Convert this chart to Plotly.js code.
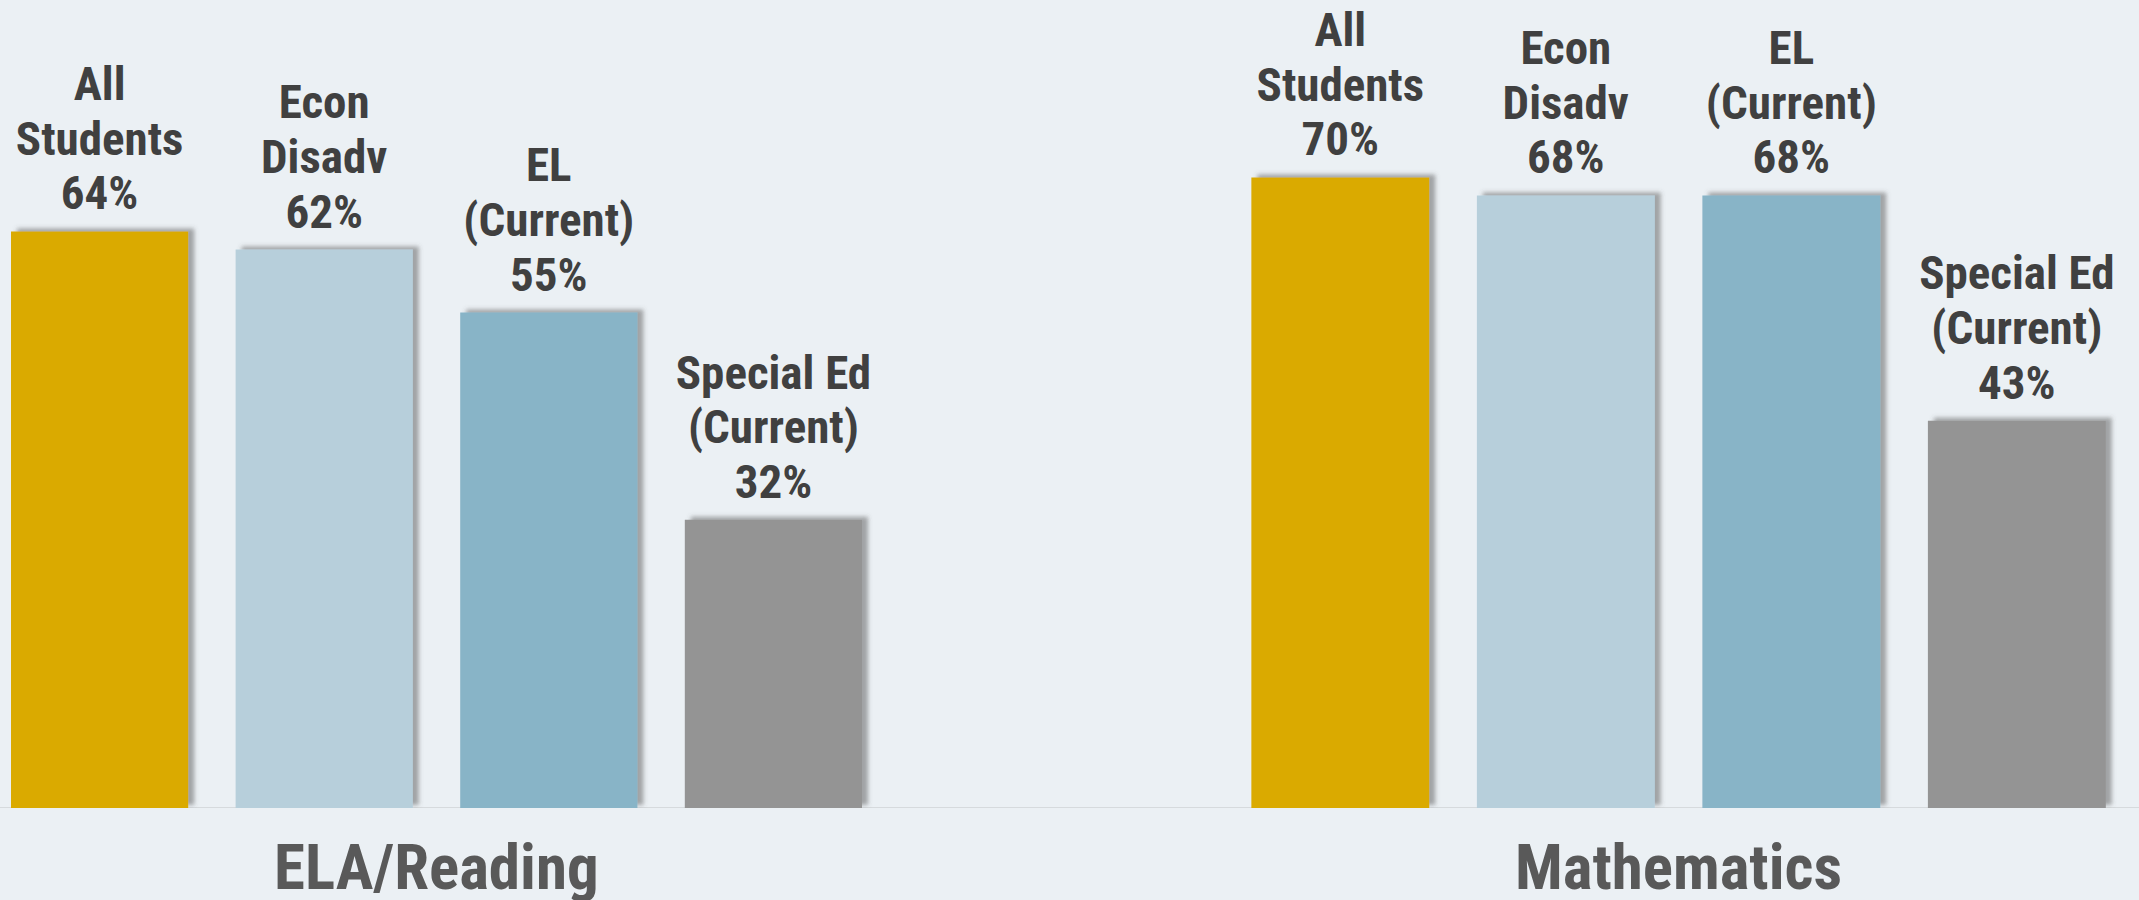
<!DOCTYPE html>
<html>
<head>
<meta charset="utf-8">
<script src="https://cdn.plot.ly/plotly-3.0.1.min.js"></script>
<style>
  html, body { margin: 0; padding: 0; background: #EBF0F4; }
  #chart { width: 2139px; height: 900px; }
</style>
</head>
<body>
<div id="chart"></div>
<script>
// ---- data ----
const groups = ['ELA/Reading', 'Mathematics'];
const categories = ['All<br>Students', 'Econ<br>Disadv', 'EL<br>(Current)', 'Special Ed<br>(Current)'];
const elaValues = [64, 62, 55, 32];
const mathValues = [70, 68, 68, 43];
const barColors = ['#DAAA00', '#B7CFDB', '#88B4C7', '#949494'];

const FONT = '"Liberation Sans Narrow", "Arial Narrow", "Roboto Condensed", "Liberation Sans", Arial, sans-serif';
const BASE_SIZE = 42;      // size used by Plotly for layout (line pitch 1.3em = 54.6px)
const SHOWN_SIZE = 47;     // glyph size shown, keeping the tight line pitch

function makeTrace(values, xa) {
  return {
    type: 'bar',
    x: categories,
    y: values,
    xaxis: xa,
    yaxis: 'y',
    marker: { color: barColors, line: { width: 0 } },
    text: values.map((v, i) => '<b>' + categories[i].replace('<br>', '</b><br><b>') + '<br>' + v + '%</b>'),
    textposition: 'outside',
    constraintext: 'none',
    cliponaxis: false,
    textfont: { family: FONT, size: BASE_SIZE, color: '#404040' },
    hoverinfo: 'skip',
    showlegend: false
  };
}

const data = [makeTrace(elaValues, 'x'), makeTrace(mathValues, 'x2')];

const axisBase = {
  type: 'category',
  showticklabels: false,
  showgrid: false,
  zeroline: false,
  showline: false,
  ticks: '',
  fixedrange: true
};

const layout = {
  width: 2139,
  height: 900,
  margin: { l: 0, r: 0, t: 0, b: 92, pad: 0 },
  paper_bgcolor: '#EBF0F4',
  plot_bgcolor: '#EBF0F4',
  bargap: 0.211,
  font: { family: FONT },
  xaxis: Object.assign({}, axisBase, { domain: [0, 0.41408], range: [-0.4435, 3.5], anchor: 'y' }),
  xaxis2: Object.assign({}, axisBase, { domain: [0.5739, 0.99561], range: [-0.5, 3.5], anchor: 'y' }),
  yaxis: { range: [0, 89.7], showticklabels: false, showgrid: false, zeroline: false, showline: false, ticks: '', fixedrange: true },
  shapes: [{
    type: 'line', xref: 'paper', yref: 'y', x0: 0, x1: 1, y0: 0, y1: 0,
    line: { color: '#D6DADD', width: 2 }, layer: 'below'
  }],
  annotations: [
    { xref: 'x', yref: 'paper', x: 1.5, y: -0.0735, yanchor: 'middle', xanchor: 'center', showarrow: false,
      text: '<b>' + groups[0] + '</b>', font: { family: FONT, size: 63, color: '#595959' } },
    { xref: 'x2', yref: 'paper', x: 1.5, y: -0.0735, yanchor: 'middle', xanchor: 'center', showarrow: false,
      text: '<b>' + groups[1] + '</b>', font: { family: FONT, size: 63, color: '#595959' } }
  ]
};

Plotly.newPlot('chart', data, layout, { staticPlot: true, displayModeBar: false }).then(function (gd) {
  const svgNS = 'http://www.w3.org/2000/svg';
  const svg = gd.querySelector('svg.main-svg');
  let defs = svg.querySelector('defs');
  if (!defs) { defs = document.createElementNS(svgNS, 'defs'); svg.insertBefore(defs, svg.firstChild); }
  const filter = document.createElementNS(svgNS, 'filter');
  filter.setAttribute('id', 'barShadow');
  filter.setAttribute('x', '-20%'); filter.setAttribute('y', '-20%');
  filter.setAttribute('width', '140%'); filter.setAttribute('height', '140%');
  const ds = document.createElementNS(svgNS, 'feDropShadow');
  ds.setAttribute('dx', '6'); ds.setAttribute('dy', '-3');
  ds.setAttribute('stdDeviation', '2');
  ds.setAttribute('flood-color', '#555555');
  ds.setAttribute('flood-opacity', '0.5');
  filter.appendChild(ds);
  defs.appendChild(filter);
  gd.querySelectorAll('.bars .point path').forEach(function (p) {
    p.setAttribute('filter', 'url(#barShadow)');
  });

  // Tighter line pitch with larger glyphs (as in the reference label style)
  const pitchPx = 1.3 * BASE_SIZE;
  gd.querySelectorAll('.bars text.bartext').forEach(function (t) {
    t.style.fontSize = SHOWN_SIZE + 'px';
    t.querySelectorAll('tspan.line').forEach(function (ln) {
      const dy = ln.getAttribute('dy');
      if (dy && dy.indexOf('em') > 0) {
        const em = parseFloat(dy);
        ln.setAttribute('dy', (em / 1.3 * pitchPx) + 'px');
      }
    });
    const tr = t.getAttribute('transform') || '';
    t.setAttribute('transform', 'translate(0,-9) ' + tr);
  });
});
</script>
</body>
</html>
